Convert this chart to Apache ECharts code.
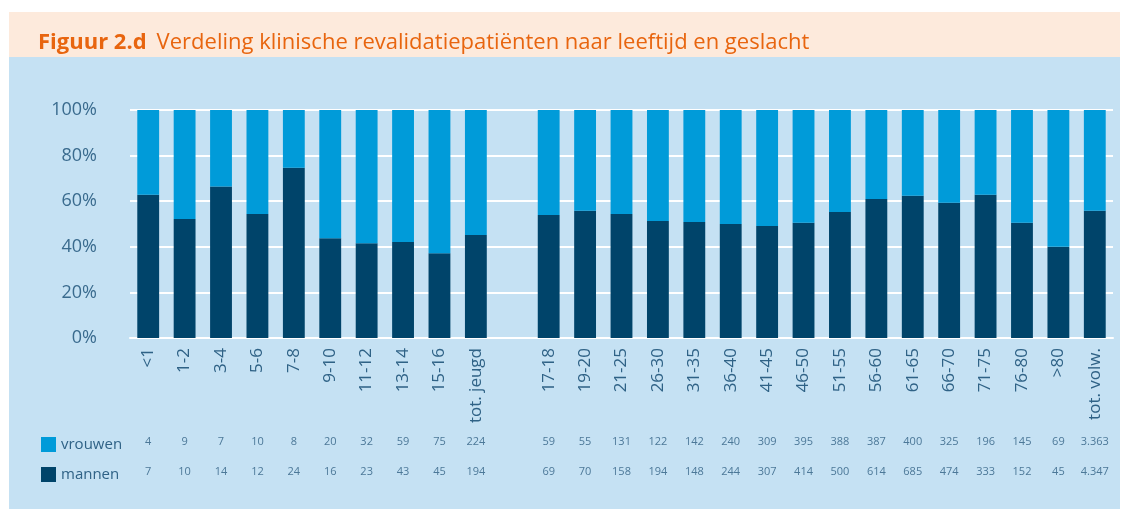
<!DOCTYPE html>
<html>
<head>
<meta charset="utf-8">
<script src="https://cdn.jsdelivr.net/npm/echarts@6/dist/echarts.min.js"></script>
<style>
html,body{margin:0;padding:0;background:#ffffff;}
#chart{width:1130px;height:511px;}
</style>
</head>
<body>
<div id="chart"></div>
<script>
// Categories (empty string = gap between youth and adults)
var categories = ['<1','1-2','3-4','5-6','7-8','9-10','11-12','13-14','15-16','tot. jeugd','',
  '17-18','19-20','21-25','26-30','31-35','36-40','41-45','46-50','51-55','56-60','61-65','66-70','71-75','76-80','>80','tot. volw.'];
// Counts per category, shown in the table (null = gap)
var vrouwen = [4,9,7,10,8,20,32,59,75,224,null,59,55,131,122,142,240,309,395,388,387,400,325,196,145,69,3363];
var mannen  = [7,10,14,12,24,16,23,43,45,194,null,69,70,158,194,148,244,307,414,500,614,685,474,333,152,45,4347];
// Share of men (%) ('-' = gap)
var mannenPct = [62.8,52.2,66.4,54.4,74.7,43.8,41.6,42.1,37.2,45.2,'-',
  54.0,55.8,54.4,51.3,50.9,50.0,49.1,50.5,55.3,61.0,62.4,59.3,62.8,50.5,40.0,55.8];
var yTicks = [0,20,40,60,80,100];

function fmt(n){ return n == null ? '' : String(n).replace(/\B(?=(\d{3})+(?!\d))/g, '.'); }
// women fill the remainder of each 100% bar
var vrouwenPct = mannenPct.map(function(v){ return v === '-' ? '-' : 100 - v; });

var DARK = '#00446a', LIGHT = '#009bd9', TXT = '#2f6286';
var chart = echarts.init(document.getElementById('chart'), null, {renderer:'canvas'});

function countAxis(arr, offset){
  return {
    type:'category', data: arr.map(fmt), position:'bottom', offset: offset, gridIndex:0,
    axisLine:{show:false}, axisTick:{show:false},
    axisLabel:{interval:0, color:'#4c7898', fontSize:11, fontFamily:'Open Sans', margin:0}
  };
}

chart.setOption({
  animation:false,
  graphic:[
    {type:'rect', shape:{x:9, y:12, width:1111, height:45}, style:{fill:'#fdeadc'}, z:-10},
    {type:'rect', shape:{x:9, y:57, width:1111, height:452}, style:{fill:'#c5e1f3'}, z:-10}
  ],
  title:{
    left:33, top:27,
    text:'{b|Figuur 2.d}  {n|Verdeling klinische revalidatiepatiënten naar leeftijd en geslacht}',
    textStyle:{
      fontWeight:'normal',
      rich:{
        b:{fontFamily:'Open Sans', fontWeight:'bold', fontSize:22, color:'#e8650f'},
        n:{fontFamily:'Open Sans', fontWeight:'normal', fontSize:22, color:'#e8650f'}
      }
    }
  },
  legend:{
    data:['vrouwen','mannen'], orient:'vertical', left:36, top:432, itemGap:15,
    itemWidth:15, itemHeight:15, icon:'rect',
    textStyle:{color:TXT, fontSize:15, fontFamily:'Open Sans'}
  },
  grid:{left:130, right:17, top:110, bottom:173},
  xAxis:[
    {
      type:'category', data:categories,
      axisLine:{lineStyle:{color:'#ffffff', width:2}}, axisTick:{show:false},
      axisLabel:{interval:0, rotate:90, color:TXT, fontSize:17, fontFamily:'Open Sans', margin:10}
    },
    countAxis(vrouwen, 98),
    countAxis(mannen, 128)
  ],
  yAxis:{
    type:'value', min:0, max:100, interval:20,
    axisLine:{show:false}, axisTick:{show:false},
    splitLine:{lineStyle:{color:'#ffffff', width:2}},
    axisLabel:{formatter:'{value}%', color:'#3a6b8e', fontSize:18, fontFamily:'Open Sans', margin:33}
  },
  series:[
    {name:'mannen', type:'bar', stack:'s', data:mannenPct, barWidth:'60%', itemStyle:{color:DARK}},
    {name:'vrouwen', type:'bar', stack:'s', data:vrouwenPct, barWidth:'60%', itemStyle:{color:LIGHT}}
  ]
});
</script>
</body>
</html>
